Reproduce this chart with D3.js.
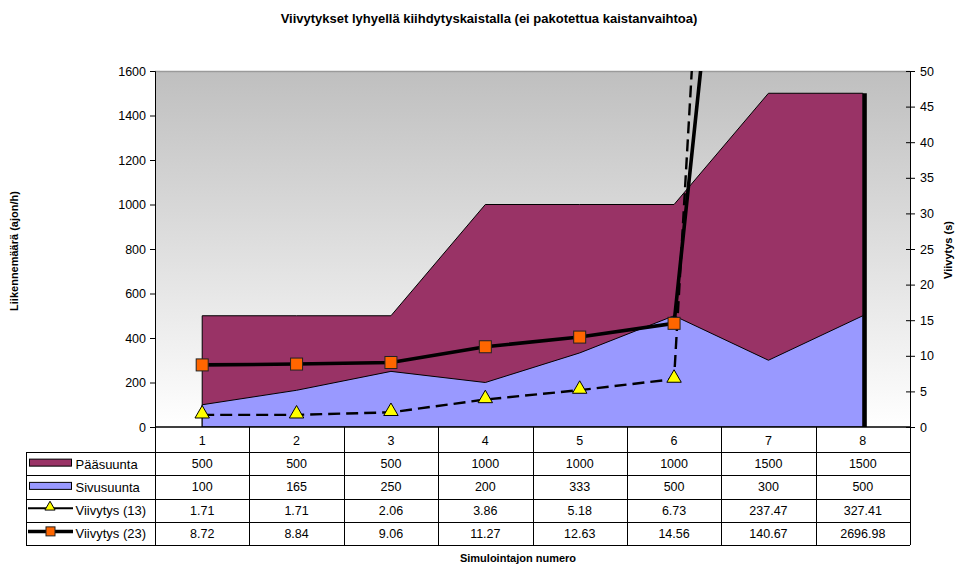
<!DOCTYPE html>
<html>
<head>
<meta charset="utf-8">
<script src="https://cdn.jsdelivr.net/npm/d3@7"></script>
<style>
  html, body { margin: 0; padding: 0; background: #fff; }
  svg { display: block; font-family: "Liberation Sans", Arial, sans-serif; }
</style>
</head>
<body>
<svg id="chart" width="956" height="567"></svg>
<script>
// Simulation runs and their traffic volumes / delays
const categories = ["1", "2", "3", "4", "5", "6", "7", "8"];
const paasuunta = [500, 500, 500, 1000, 1000, 1000, 1500, 1500];
const sivusuunta = [100, 165, 250, 200, 333, 500, 300, 500];
const viivytys13 = [1.71, 1.71, 2.06, 3.86, 5.18, 6.73, 237.47, 327.41];
const viivytys23 = [8.72, 8.84, 9.06, 11.27, 12.63, 14.56, 140.67, 2696.98];
const leftTicks = [0, 200, 400, 600, 800, 1000, 1200, 1400, 1600];
const rightTicks = [0, 5, 10, 15, 20, 25, 30, 35, 40, 45, 50];

const svg = d3.select("#chart");
const plot = { left: 155, right: 910, top: 71, bottom: 427 };
const numSize = 12.5;

const x = d3.scaleBand().domain(categories).range([plot.left, plot.right]);
const cx = c => x(c) + x.bandwidth() / 2;
const yL = d3.scaleLinear().domain([0, 1600]).range([plot.bottom, plot.top]);
const yR = d3.scaleLinear().domain([0, 50]).range([plot.bottom, plot.top]);

const defs = svg.append("defs");
const grad = defs.append("linearGradient").attr("id", "bg")
  .attr("x1", 0).attr("y1", 0).attr("x2", 0).attr("y2", 1);
grad.append("stop").attr("offset", "0%").attr("stop-color", "#bfbfbf");
grad.append("stop").attr("offset", "100%").attr("stop-color", "#ffffff");
defs.append("clipPath").attr("id", "plotClip").append("rect")
  .attr("x", plot.left).attr("y", plot.top)
  .attr("width", plot.right - plot.left).attr("height", plot.bottom - plot.top);

// Plot background
svg.append("rect")
  .attr("x", plot.left).attr("y", plot.top)
  .attr("width", plot.right - plot.left).attr("height", plot.bottom - plot.top)
  .attr("fill", "url(#bg)");
svg.append("line")
  .attr("x1", plot.left).attr("x2", plot.right)
  .attr("y1", plot.top + 0.5).attr("y2", plot.top + 0.5)
  .attr("stroke", "#9a9a9a").attr("stroke-width", 1.5);

// Title
svg.append("text")
  .attr("x", 489).attr("y", 23)
  .attr("text-anchor", "middle")
  .attr("font-size", 13).attr("font-weight", "bold")
  .text("Viivytykset lyhyellä kiihdytyskaistalla (ei pakotettua kaistanvaihtoa)");

const g = svg.append("g").attr("clip-path", "url(#plotClip)");

// Overlapping (non-stacked) areas
const area = d3.area()
  .x((d, i) => cx(categories[i]))
  .y0(yL(0))
  .y1(d => yL(d));

g.append("path").datum(paasuunta)
  .attr("d", area)
  .attr("fill", "#993366").attr("stroke", "#000").attr("stroke-width", 1);
g.append("path").datum(sivusuunta)
  .attr("d", area)
  .attr("fill", "#9999ff").attr("stroke", "#000").attr("stroke-width", 1);

// Heavy right edge of the main-direction area
const last = paasuunta.length - 1;
g.append("line")
  .attr("x1", cx(categories[last]) + 2).attr("x2", cx(categories[last]) + 2)
  .attr("y1", yL(paasuunta[last])).attr("y2", yL(0))
  .attr("stroke", "#000").attr("stroke-width", 4);

// Delay lines on the secondary axis
const line = d3.line()
  .x((d, i) => cx(categories[i]))
  .y(d => yR(d));

g.append("path").datum(viivytys13)
  .attr("d", line)
  .attr("fill", "none").attr("stroke", "#000")
  .attr("stroke-width", 2.4).attr("stroke-dasharray", "12,6");
g.append("path").datum(viivytys23)
  .attr("d", line)
  .attr("fill", "none").attr("stroke", "#000")
  .attr("stroke-width", 3.6);

// Markers (only those inside the axis range are visible)
const triPath = d3.symbol().type(d3.symbolTriangle).size(90);
g.selectAll(".tri").data(viivytys13.map((v, i) => ({ v, c: categories[i] })).filter(d => d.v <= 50))
  .join("path")
  .attr("transform", d => `translate(${cx(d.c)},${yR(d.v) - 1})`)
  .attr("d", triPath)
  .attr("fill", "#ffff00").attr("stroke", "#000").attr("stroke-width", 1);
g.selectAll(".sq").data(viivytys23.map((v, i) => ({ v, c: categories[i] })).filter(d => d.v <= 50))
  .join("rect")
  .attr("x", d => cx(d.c) - 6).attr("y", d => yR(d.v) - 6)
  .attr("width", 12).attr("height", 12)
  .attr("fill", "#ff6600").attr("stroke", "#222").attr("stroke-width", 1);

// Axes
const leftAxis = d3.axisLeft(yL).tickValues(leftTicks).tickSize(5).tickPadding(4).tickFormat(d3.format("d"));
const gl = svg.append("g").attr("transform", `translate(${plot.left},0)`).call(leftAxis);
const rightAxis = d3.axisRight(yR).tickValues(rightTicks).tickSize(5).tickPadding(5).tickFormat(d3.format("d"));
const gr = svg.append("g").attr("transform", `translate(${plot.right},0)`).call(rightAxis);
[gl, gr].forEach(a => {
  a.select(".domain").attr("stroke", "#000").attr("stroke-width", 1);
  a.selectAll(".tick line").attr("stroke", "#000");
  a.selectAll(".tick text").attr("font-size", numSize).attr("font-family", "Liberation Sans, Arial, sans-serif").attr("fill", "#000");
});
gr.selectAll(".tick").append("line").attr("x1", -4).attr("x2", 0).attr("stroke", "#000");

// Axis titles
svg.append("text")
  .attr("transform", `translate(18,${(plot.top + plot.bottom) / 2 + 2}) rotate(-90)`)
  .attr("text-anchor", "middle").attr("font-size", 11).attr("font-weight", "bold")
  .text("Liikennemäärä (ajon/h)");
svg.append("text")
  .attr("transform", `translate(952,${(plot.top + plot.bottom) / 2 + 1}) rotate(-90)`)
  .attr("text-anchor", "middle").attr("font-size", 11).attr("font-weight", "bold")
  .text("Viivytys (s)");

// Data table below the plot
const headerBottom = 452;
const rowH = 23.25;
const legendLeft = 26;
const rows = [
  { name: "Pääsuunta", values: paasuunta, fmt: d => String(d), key: "area", color: "#993366" },
  { name: "Sivusuunta", values: sivusuunta, fmt: d => String(d), key: "area", color: "#9999ff" },
  { name: "Viivytys (13)", values: viivytys13, fmt: d => d.toFixed(2), key: "dash" },
  { name: "Viivytys (23)", values: viivytys23, fmt: d => d.toFixed(2), key: "solid" }
];
const tableBottom = headerBottom + rowH * rows.length;
const tbl = svg.append("g").attr("stroke", "#000").attr("stroke-width", 1);

// x axis line and header row
tbl.append("line").attr("x1", plot.left).attr("x2", plot.right).attr("y1", plot.bottom).attr("y2", plot.bottom).attr("stroke-width", 1.5);
categories.forEach(c => {
  svg.append("text")
    .attr("x", cx(c)).attr("y", 444.5)
    .attr("text-anchor", "middle").attr("font-size", numSize)
    .text(c);
});
// vertical grid lines
const bounds = categories.map(c => x(c)).concat([plot.right]);
bounds.forEach(b => {
  tbl.append("line").attr("x1", Math.round(b) + 0.5).attr("x2", Math.round(b) + 0.5)
    .attr("y1", plot.bottom).attr("y2", tableBottom);
});
tbl.append("line").attr("x1", legendLeft + 0.5).attr("x2", legendLeft + 0.5)
  .attr("y1", headerBottom).attr("y2", tableBottom);
// horizontal grid lines
for (let r = 0; r <= rows.length; r++) {
  const yy = Math.round(headerBottom + r * rowH) + 0.5;
  tbl.append("line").attr("x1", legendLeft).attr("x2", plot.right).attr("y1", yy).attr("y2", yy);
}

rows.forEach((row, r) => {
  const top = headerBottom + r * rowH;
  const mid = top + rowH / 2;
  // legend key
  if (row.key === "area") {
    svg.append("rect").attr("x", 29.5).attr("y", mid - 4.5).attr("width", 42).attr("height", 7)
      .attr("fill", row.color).attr("stroke", "#000").attr("stroke-width", 1);
  } else if (row.key === "dash") {
    svg.append("line").attr("x1", 28).attr("x2", 73).attr("y1", mid - 2).attr("y2", mid - 2)
      .attr("stroke", "#000").attr("stroke-width", 2);
    svg.append("path").attr("transform", `translate(50,${mid - 3})`)
      .attr("d", d3.symbol().type(d3.symbolTriangle).size(45))
      .attr("fill", "#ffff00").attr("stroke", "#000").attr("stroke-width", 1);
  } else {
    svg.append("line").attr("x1", 28).attr("x2", 73).attr("y1", mid - 2).attr("y2", mid - 2)
      .attr("stroke", "#000").attr("stroke-width", 3.5);
    svg.append("rect").attr("x", 46).attr("y", mid - 6.5).attr("width", 9).attr("height", 9)
      .attr("fill", "#ff6600").attr("stroke", "#222").attr("stroke-width", 1);
  }
  svg.append("text").attr("x", 75.5).attr("y", mid + 5)
    .attr("font-size", 13).text(row.name);
  row.values.forEach((v, i) => {
    svg.append("text")
      .attr("x", cx(categories[i])).attr("y", mid + 4.5)
      .attr("text-anchor", "middle").attr("font-size", numSize)
      .text(row.fmt(v));
  });
});

// Category axis title
svg.append("text")
  .attr("x", 518).attr("y", 562)
  .attr("text-anchor", "middle").attr("font-size", 11).attr("font-weight", "bold")
  .text("Simulointajon numero");
</script>
</body>
</html>
